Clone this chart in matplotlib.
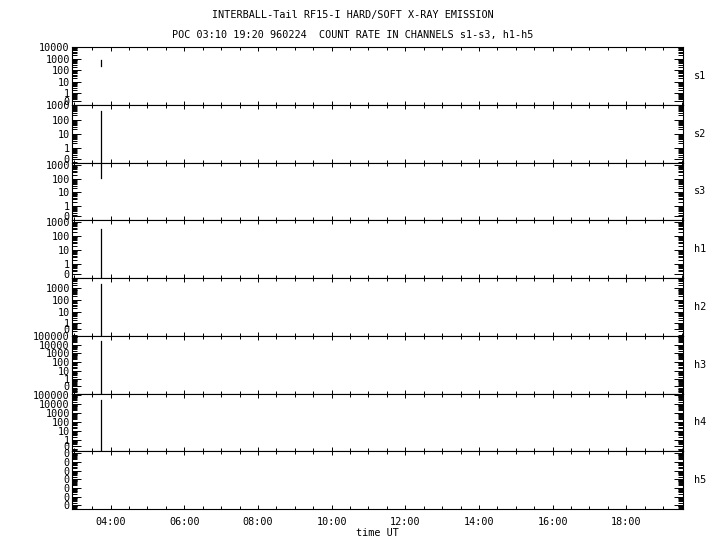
import numpy as np
import matplotlib
matplotlib.use("Agg")
import matplotlib.pyplot as plt
from matplotlib.ticker import (FixedLocator, FixedFormatter, LogLocator,
                               MultipleLocator, FuncFormatter, NullFormatter)

plt.rcParams['font.family'] = ['DejaVu Sans Mono']

# channels, top to bottom
channels = ["s1", "s2", "s3", "h1", "h2", "h3", "h4", "h5"]

# count rates around the single burst (hours UT)
spike_hours = [3.735, 3.735]
s1 = [680, 210]
s2 = [400, 0]
s3 = [1e6, 115]
h1 = [340, 0]
h2 = [2200, 0]
h3 = [24000, 0]
h4 = [26000, 0]
h5 = []
rates = [s1, s2, s3, h1, h2, h3, h4, h5]

# log10 y-range of each panel, highest labelled decade, spot of the "0" label
ylims_log = [(-1.02, 4.0), (-1.06, 3.05), (-1.07, 3.2), (-1.0, 3.12),
             (-1.1, 3.9), (-1.65, 5.04), (-1.3, 5.2), (-6.45, 0.25)]
top_decade = [4, 3, 3, 3, 4, 5, 5, 0]
zero_log = [-0.68, -0.78, -0.75, -0.71, -0.52, -0.8, -0.75, None]

time_range = (2.95, 19.54)
title1 = "INTERBALL-Tail RF15-I HARD/SOFT X-RAY EMISSION"
title2 = "POC 03:10 19:20 960224  COUNT RATE IN CHANNELS s1-s3, h1-h5"

fig, axes = plt.subplots(len(channels), 1, sharex=True, figsize=(7.2, 5.5), dpi=100)
fig.subplots_adjust(left=0.1, right=0.9486, top=0.9145, bottom=0.0745, hspace=0)

for i, ax in enumerate(axes):
    if len(rates[i]) > 0:
        ax.plot(spike_hours[:len(rates[i])], rates[i], color="black", lw=0.9)
    ax.set_yscale("log")
    lo, hi = ylims_log[i]
    ax.set_ylim(10 ** lo, 10 ** hi)

    if zero_log[i] is None:
        # every decade prints as 0 in this channel
        locs = [10.0 ** k for k in range(-6, top_decade[i] + 1)]
        labels = ["0"] * len(locs)
    else:
        locs = [10 ** zero_log[i]] + [10.0 ** k for k in range(0, top_decade[i] + 1)]
        labels = ["0"] + [str(10 ** k) for k in range(0, top_decade[i] + 1)]
    ax.yaxis.set_major_locator(FixedLocator(locs))
    ax.yaxis.set_major_formatter(FixedFormatter(labels))
    ax.yaxis.set_minor_locator(LogLocator(base=10, subs=np.arange(2, 10), numticks=30))
    ax.yaxis.set_minor_formatter(NullFormatter())

    ax.tick_params(axis="y", which="major", direction="in", length=6.5, width=0.7,
                   left=True, right=True, labelsize=7.3, pad=1.5)
    ax.tick_params(axis="y", which="minor", direction="in", length=3.6, width=0.7,
                   left=True, right=True)
    ax.tick_params(axis="x", which="major", direction="in", length=3.2, width=0.7,
                   top=True, bottom=True, labelsize=7.3, pad=5.5)
    ax.tick_params(axis="x", which="minor", direction="in", length=2.0, width=0.7,
                   top=True, bottom=True)
    for sp in ax.spines.values():
        sp.set_linewidth(0.8)

    ax.text(1.018, 0.5, channels[i], transform=ax.transAxes,
            ha="left", va="center", fontsize=7.3)

ax = axes[-1]
ax.set_xlim(*time_range)
ax.xaxis.set_major_locator(MultipleLocator(2))
ax.xaxis.set_minor_locator(MultipleLocator(0.5))
ax.xaxis.set_major_formatter(FuncFormatter(lambda h, pos: f"{int(round(h)):02d}:00"))
ax.set_xlabel("time UT", fontsize=7.3, labelpad=0.8)

fig.text(353 / 720, 1 - 15 / 550, title1, ha="center", va="center", fontsize=7.3)
fig.text(353 / 720, 1 - 35 / 550, title2, ha="center", va="center", fontsize=7.3)

fig.savefig("out.png", dpi=100)
